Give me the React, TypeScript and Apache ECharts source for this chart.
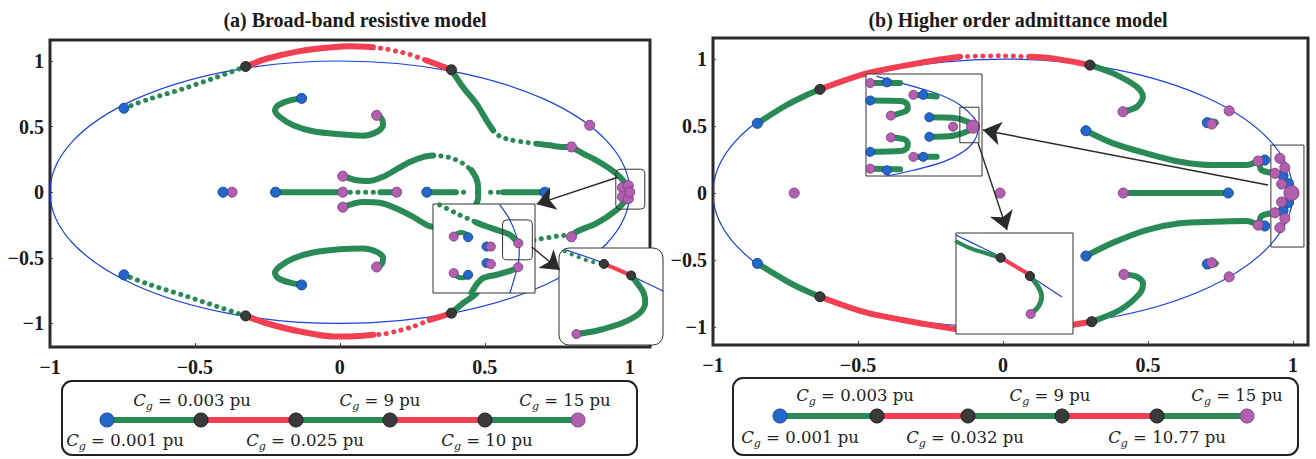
import React, { useEffect, useRef } from "react";
import * as echarts from "echarts";

// ---------- shared ----------
const xTickValues = [-1, -0.5, 0, 0.5, 1];
const yTickValues = [-1, -0.5, 0, 0.5, 1];
const unitCircle = [[0, 0, 1]]; // centre x, centre y, radius (stability boundary)

// ---------- panel (a): main plot ----------
const aUpperLeftDots = [[-0.745, 0.64], [-0.655, 0.712], [-0.541, 0.788], [-0.425, 0.877], [-0.325, 0.958]];
const aTopRed1 = [[-0.325, 0.958], [-0.253, 1.017], [-0.138, 1.075], [-0.024, 1.105], [0.034, 1.112], [0.114, 1.105]];
const aTopRedDots = [[0.114, 1.105], [0.155, 1.093], [0.195, 1.075], [0.241, 1.05], [0.299, 1.004]];
const aTopRed2 = [[0.299, 1.004], [0.345, 0.966], [0.385, 0.933]];
const aUpperRightSolid = [[0.385, 0.933], [0.425, 0.8], [0.471, 0.675], [0.506, 0.548], [0.529, 0.471]];
const aUpperRightDots = [[0.529, 0.471], [0.552, 0.426], [0.586, 0.4], [0.632, 0.383], [0.678, 0.37]];
const aUpperRightSolid2 = [[0.678, 0.37], [0.724, 0.357], [0.77, 0.345], [0.799, 0.345]];
const aUpperCluster = [[0.799, 0.345], [0.839, 0.294], [0.885, 0.243], [0.931, 0.18], [0.966, 0.116], [0.989, 0.053]];
const aLowerCluster = [[0.989, -0.053], [0.954, -0.137], [0.885, -0.238], [0.816, -0.302], [0.799, -0.34]];
const aLowerRightDots = [[0.799, -0.34], [0.77, -0.33], [0.724, -0.345], [0.69, -0.357], [0.64, -0.38], [0.6, -0.41]];
const aLowerRightSolid = [[0.6, -0.41], [0.55, -0.46], [0.52, -0.53], [0.49, -0.65], [0.471, -0.77], [0.425, -0.846], [0.385, -0.922]];
const aBottomRed2 = [[0.385, -0.922], [0.345, -0.95], [0.31, -0.973]];
const aBottomRedDots = [[0.31, -0.973], [0.253, -1.024], [0.195, -1.06], [0.155, -1.08], [0.115, -1.087]];
const aBottomRed1 = [[0.115, -1.087], [0.034, -1.1], [-0.023, -1.1], [-0.138, -1.062], [-0.253, -0.999], [-0.325, -0.943]];
const aLowerLeftDots = [[-0.325, -0.943], [-0.425, -0.87], [-0.541, -0.785], [-0.655, -0.705], [-0.745, -0.63]];
const aMidUpperSolid = [[0.01, 0.122], [0.058, 0.091], [0.103, 0.086], [0.149, 0.117], [0.195, 0.173], [0.241, 0.23], [0.287, 0.268], [0.322, 0.279]];
const aMidUpperDots = [[0.322, 0.279], [0.356, 0.274], [0.391, 0.256], [0.425, 0.218], [0.454, 0.167]];
const aMidUpperSolid2 = [[0.454, 0.167], [0.471, 0.104], [0.477, 0.04], [0.477, 0]];
const aMidLowerSolid = [[0.01, -0.114], [0.08, -0.074], [0.138, -0.081], [0.195, -0.124], [0.253, -0.188], [0.31, -0.259], [0.36, -0.27]];
const aMidLowerDots = [[0.36, -0.27], [0.42, -0.22], [0.46, -0.14]];
const aMidLowerSolid2 = [[0.46, -0.14], [0.477, -0.04], [0.477, 0]];
const aRealLeft = [[-0.222, 0], [0.01, 0]];
const aRealMidDots = [[0.01, 0], [0.14, 0]];
const aRealMid = [[0.14, 0], [0.196, 0]];
const aRealRight1 = [[0.3, 0], [0.4, 0]];
const aRealRight1Dots = [[0.4, 0], [0.445, 0]];
const aRealRight2Dots = [[0.52, 0], [0.563, 0]];
const aRealRight2 = [[0.563, 0], [0.707, 0]];
const aHookUpper = [[-0.132, 0.715], [-0.172, 0.7], [-0.213, 0.662], [-0.224, 0.624], [-0.207, 0.573], [-0.161, 0.51], [-0.092, 0.464], [0, 0.441], [0.08, 0.431], [0.127, 0.459], [0.149, 0.51], [0.144, 0.56], [0.127, 0.586]];
const aHookLower = [[-0.132, -0.707], [-0.172, -0.69], [-0.213, -0.655], [-0.224, -0.615], [-0.207, -0.565], [-0.161, -0.505], [-0.092, -0.46], [0, -0.435], [0.08, -0.43], [0.127, -0.455], [0.149, -0.5], [0.144, -0.55], [0.127, -0.57]];
const aBlueStarts = [[-0.745, 0.64], [-0.745, -0.63], [-0.132, 0.715], [-0.132, -0.707], [-0.403, 0], [-0.222, 0], [0.3, 0], [0.707, 0]];
const aPurpleEnds = [[-0.372, 0], [0.01, 0], [0.196, 0], [0.01, 0.122], [0.01, -0.114], [0.127, 0.586], [0.127, -0.57], [0.799, 0.345], [0.799, -0.34], [0.862, 0.51], [0.975, 0.035], [0.975, -0.035], [0.995, 0.05], [0.995, -0.05], [1.0, 0]];
const aBlackCrossings = [[-0.325, 0.958], [-0.325, -0.943], [0.385, 0.933], [0.385, -0.922]];
const aZoomBox = [[0.952, -0.129, 1.052, 0.175, 4]];
const aArrows = [[[0.959, 0.114], [0.679, -0.091]], [[0.662, -0.418], [0.759, -0.593]]];

// ---------- panel (a): inset 1 (local 0-100 units) ----------
const a1CircleArc = [[65.6, 98.9], [75.4, 82.1], [82, 63.4], [84.6, 48.5], [83.6, 33.6], [80.3, 18.7], [75.4, 0]];
const a1UpperDots = [[6.6, 98.9], [16.4, 93.3], [23, 89.6], [29.5, 85.8], [36, 82.8], [42.6, 79.1]];
const a1UpperSolid = [[42.6, 79.1], [52, 75], [62.3, 70.9], [75.4, 65.3], [83.6, 56]];
const a1LowerSolid = [[83.6, 29.1], [77, 25.4], [62.3, 20.5], [49.2, 16.8], [42.6, 9.3], [37.7, 0]];
const a1HookTop = [[20.3, 63.4], [24, 67], [28, 68], [32, 66.5], [34.4, 62.7]];
const a1HookBottom = [[20.3, 22.4], [24, 18.5], [28, 17], [32, 18], [34.4, 20.5]];
const a1Blue = [[34.4, 62.7], [34.4, 20.5], [52.5, 52.2], [52.5, 33.6]];
const a1Purple = [[20.3, 63.4], [20.3, 22.4], [56.7, 52.2], [56.7, 32.5], [83.6, 56], [83.6, 29.1]];
const a1ZoomBox = [[68.2, 37.3, 97.4, 82.1, 4]];

// ---------- panel (a): inset 2 ----------
const a2CircleArc = [[5.5, 98.3], [42.6, 84.6], [70, 71], [100, 55.6]];
const a2Dots = [[5.5, 96.6], [10.3, 94.2], [16.8, 91.5], [23.2, 88.7], [29.7, 86.3], [36.1, 84.6], [43.2, 83.6]];
const a2Red = [[43.2, 83.6], [56, 78], [69.4, 71.7]];
const a2Green = [[69.4, 71.7], [74.8, 64.2], [81.3, 53.9], [82.9, 43.7], [78.1, 33.4], [61.9, 23.2], [36.1, 14.7], [16.8, 11.3]];
const a2Black = [[43.2, 83.6], [69.4, 71.7]];
const a2Purple = [[16.8, 11.3]];

// ---------- panel (b): main plot ----------
const bUpperLeft = [[-0.847, 0.52], [-0.746, 0.657], [-0.689, 0.719], [-0.631, 0.774]];
const bTopRed1 = [[-0.631, 0.774], [-0.47, 0.893], [-0.263, 0.98], [-0.148, 1.017]];
const bTopRedDots = [[-0.148, 1.017], [-0.01, 1.024], [0.093, 1.017]];
const bTopRed2 = [[0.093, 1.017], [0.172, 1.005], [0.3, 0.955]];
const bUpperRight = [[0.3, 0.955], [0.38, 0.893], [0.462, 0.793], [0.483, 0.72], [0.462, 0.644], [0.414, 0.607]];
const bLowerLeft = [[-0.847, -0.525], [-0.746, -0.657], [-0.689, -0.72], [-0.631, -0.774]];
const bBottomRed1 = [[-0.631, -0.774], [-0.47, -0.893], [-0.263, -0.98], [-0.148, -1.02]];
const bBottomRedDots = [[-0.148, -1.02], [-0.01, -1.026], [0.093, -1.02]];
const bBottomRed2 = [[0.093, -1.02], [0.172, -1.005], [0.306, -0.96]];
const bLowerRight = [[0.306, -0.96], [0.403, -0.873], [0.472, -0.749], [0.483, -0.672], [0.462, -0.624], [0.417, -0.607]];
const bMidUpper = [[0.286, 0.465], [0.38, 0.371], [0.495, 0.296], [0.61, 0.234], [0.725, 0.209], [0.84, 0.209], [0.88, 0.239]];
const bMidLower = [[0.286, -0.47], [0.38, -0.37], [0.495, -0.276], [0.61, -0.226], [0.725, -0.214], [0.84, -0.209], [0.88, -0.239]];
const bHookUpper = [[0.885, 0.225], [0.89, 0.175], [0.915, 0.155], [0.95, 0.15]];
const bHookLower = [[0.885, -0.225], [0.89, -0.175], [0.915, -0.155], [0.95, -0.15]];
const bReal = [[0.415, 0], [0.777, 0]];
const bLoopUpper = [[0.7, 0.525], [0.712, 0.545], [0.732, 0.543], [0.74, 0.523], [0.725, 0.503], [0.705, 0.508], [0.7, 0.525]];
const bLoopLower = [[0.7, -0.525], [0.712, -0.545], [0.732, -0.543], [0.74, -0.523], [0.725, -0.503], [0.705, -0.508], [0.7, -0.525]];
const bBlueStarts = [[-0.847, 0.52], [-0.847, -0.525], [0.286, 0.465], [0.286, -0.47], [0.777, 0], [0.705, 0.525], [0.705, -0.53], [0.903, 0.246], [0.903, -0.246], [0.966, 0.13], [0.966, -0.13], [0.985, 0.07], [0.985, -0.07]];
const bPurpleEnds = [[0.414, 0.607], [0.417, -0.607], [0.415, 0], [-0.72, 0], [-0.01, 0], [0.78, 0.614], [0.78, -0.625], [0.72, 0.515], [0.72, -0.52], [0.88, 0.239], [0.88, -0.239], [0.955, 0.259], [0.972, 0.19], [0.938, 0.147], [0.961, 0.067], [0.961, -0.067], [0.938, -0.147], [0.972, -0.19], [0.955, -0.259]];
const bBigPurple = [[0.995, 0]];
const bBlackCrossings = [[-0.631, 0.774], [-0.631, -0.774], [0.3, 0.955], [0.306, -0.96]];
const bZoomBox = [[0.924, -0.403, 1.038, 0.358, 0]];
const bArrows = [[[0.914, 0.06], [-0.069, 0.47]], [[-0.086, 0.373], [0.014, -0.276]]];

// ---------- panel (b): inset 1 ----------
const b1CircleArc = [[9.4, 97.7], [40.9, 87.8], [63.7, 79.6], [80.9, 69.7], [92.3, 58.2], [96.6, 48.4], [93.7, 35.2], [83.7, 23.7], [66.6, 13.8], [40.9, 5.6], [18, 0]];
const b1Row1 = [[3.7, 91.1], [29.4, 91.1]];
const b1Row2 = [[40.9, 79.6], [60.9, 78]];
const b1Hook3 = [[3.7, 74], [30, 73.5], [35, 71], [36, 66], [33, 63], [21.4, 59.2]];
const b1Row4a = [[54.6, 57.6], [75, 57], [88, 53], [92.3, 48.4]];
const b1Row4b = [[54.6, 38.5], [75, 39.5], [88, 44], [92.3, 48.4]];
const b1Hook5 = [[21.4, 37.8], [33, 36], [36, 32], [35, 27], [30, 24.5], [3.7, 23.7]];
const b1Row6 = [[40.9, 18.8], [60.9, 18.8]];
const b1Row7 = [[3.7, 7.2], [29.4, 6.5]];
const b1Purple = [[3.7, 91.1], [40.9, 79.6], [21.4, 59.2], [75.1, 48.4], [21.4, 37.8], [40.9, 18.8], [3.7, 7.2]];
const b1BigPurple = [[92.3, 48.4]];
const b1Blue = [[18, 91.8], [49.4, 79.6], [3.7, 74], [54.6, 57.6], [54.6, 38.5], [3.7, 23.7], [49.4, 18.8], [18, 5.6]];
const b1ZoomBox = [[80.9, 32.6, 97.4, 67.4, 0]];

// ---------- panel (b): inset 2 ----------
const b2CircleArc = [[0, 98], [20.5, 86.4], [37.6, 76.5], [63.2, 57.4], [90.3, 36.9]];
const b2Green1 = [[0.6, 91.4], [12, 85.1], [24.8, 80.2], [38.2, 75.5]];
const b2Red = [[38.2, 75.5], [50, 67.5], [63.2, 58.5]];
const b2Green2 = [[63.2, 57.4], [70.3, 46.8], [73.2, 36.9], [70.3, 27], [63.8, 19.8]];
const b2Black = [[38.2, 75.5], [63.2, 57.4]];
const b2Purple = [[63.8, 19.8]];

// ---------- legends ----------
const legendValuesA = ["0.001", "0.003", "0.025", "9", "10", "15"];
const legendValuesB = ["0.001", "0.003", "0.032", "9", "10.77", "15"];
const legendSegmentKinds = ["g", "r", "g", "r", "g"];

// ---------- styles ----------
const GREEN = "#2a8a56";
const RED = "#f23f52";
const BLUE = "#2368c8";
const PURPLE = "#b060ae";
const BLACK = "#3a3a3a";
const CIRCLE = "#1b3fe0";
const FRAME = "#2a2a2a";
const SERIF = '"Liberation Serif", "Times New Roman", serif';
const LEGEND_FONT = '"DejaVu Serif", serif';

const STY: Record<string, any> = {
  g: { color: GREEN, width: 6, type: "solid" },
  gd: { color: GREEN, width: 5, type: [0.1, 7.5] },
  r: { color: RED, width: 6, type: "solid" },
  rd: { color: RED, width: 5, type: [0.1, 7.5] },
  c: { color: CIRCLE, width: 1.2, type: "solid" },
};

function lineS(data: number[][], kind: string, axis: number, z: number, width?: number) {
  const s = STY[kind];
  return {
    type: "line", xAxisIndex: axis, yAxisIndex: axis, data, symbol: "none", showSymbol: false,
    smooth: 0.3, silent: true, z,
    lineStyle: { color: s.color, width: width ?? s.width, type: s.type, cap: "round", join: "round" },
  };
}
function dotS(data: number[][], color: string, border: string, size: number, axis: number, z: number) {
  return {
    type: "scatter", xAxisIndex: axis, yAxisIndex: axis, data, symbol: "circle", symbolSize: size, silent: true, z,
    itemStyle: { color, borderColor: border, borderWidth: 1, opacity: 1 },
  };
}
function rectS(data: number[][], axis: number, z: number, fill: string, stroke: string, lw: number) {
  return {
    type: "custom", xAxisIndex: axis, yAxisIndex: axis, data, silent: true, z, clip: false,
    renderItem: (_p: any, api: any) => {
      const a = api.coord([api.value(0), api.value(3)]);
      const b = api.coord([api.value(2), api.value(1)]);
      return {
        type: "rect",
        shape: { x: a[0], y: a[1], width: b[0] - a[0], height: b[1] - a[1], r: api.value(4) },
        style: { fill, stroke, lineWidth: lw },
      };
    },
  };
}
function circleS(axis: number, z: number) {
  return {
    type: "custom", xAxisIndex: axis, yAxisIndex: axis, data: unitCircle, silent: true, z, clip: true,
    renderItem: (_p: any, api: any) => {
      const c = api.coord([api.value(0), api.value(1)]);
      const s = api.size([api.value(2), api.value(2)]);
      return {
        type: "ellipse",
        shape: { cx: c[0], cy: c[1], rx: s[0], ry: s[1] },
        style: { fill: "none", stroke: CIRCLE, lineWidth: 1.2 },
      };
    },
  };
}
function arrowS(arrows: number[][][], axis: number, z: number) {
  return {
    type: "lines", coordinateSystem: "cartesian2d", xAxisIndex: axis, yAxisIndex: axis, silent: true, z,
    symbol: ["none", "arrow"], symbolSize: 18,
    data: arrows.map((c) => ({ coords: c })),
    lineStyle: { color: "#2a2a2a", width: 1.4, opacity: 1, curveness: 0 },
  };
}

const fmt = (v: number) => String(v).replace("-", "\u2212");

function mainX(grid: number, max: number) {
  return {
    gridIndex: grid, type: "value", min: -1, max,
    axisLine: { show: false, onZero: false }, splitLine: { show: false },
    axisTick: { show: true, inside: true, length: 4, customValues: xTickValues, lineStyle: { color: "#444" } },
    axisLabel: { customValues: xTickValues, formatter: fmt, fontFamily: SERIF, fontWeight: "bold", fontSize: 20, color: "#1a1a1a", margin: 10 },
  };
}
function mainY(grid: number, min: number, max: number) {
  return {
    gridIndex: grid, type: "value", min, max,
    axisLine: { show: false, onZero: false }, splitLine: { show: false },
    axisTick: { show: true, inside: true, length: 3, customValues: yTickValues, lineStyle: { color: "#444" } },
    axisLabel: { customValues: yTickValues, formatter: fmt, fontFamily: SERIF, fontWeight: "bold", fontSize: 20, color: "#1a1a1a", margin: 6 },
  };
}
const insetAxis = (grid: number) => ({ gridIndex: grid, type: "value", min: 0, max: 100, show: false });

const RICH = {
  c: { fontFamily: LEGEND_FONT, fontStyle: "italic", fontSize: 16.5, lineHeight: 24, fill: "#222", color: "#222" },
  s: { fontFamily: LEGEND_FONT, fontStyle: "italic", fontSize: 11, lineHeight: 12, verticalAlign: "bottom", fill: "#222", color: "#222" },
  n: { fontFamily: LEGEND_FONT, fontSize: 16.5, lineHeight: 24, fill: "#222", color: "#222" },
};

function legendGraphic(values: string[], box: any, dotsX: number[], lineY: number, labelDx: number[], labelDy: number) {
  const children: any[] = [];
  children.push({ type: "rect", shape: { x: box.x, y: box.y, width: box.w, height: box.h, r: 10 }, style: { fill: "#fff", stroke: "#222", lineWidth: 2 } });
  for (let i = 0; i < dotsX.length - 1; i++) {
    children.push({
      type: "line", shape: { x1: dotsX[i], y1: lineY, x2: dotsX[i + 1], y2: lineY },
      style: { stroke: legendSegmentKinds[i] === "g" ? GREEN : RED, lineWidth: 6 },
    });
  }
  const last = dotsX.length - 1;
  dotsX.forEach((x, i) => {
    const fill = i === 0 ? BLUE : i === last ? PURPLE : BLACK;
    const stroke = i === 0 ? "#17489a" : i === last ? "#8a3f88" : "#1e1e1e";
    children.push({ type: "circle", shape: { cx: x, cy: lineY, r: 7 }, style: { fill, stroke, lineWidth: 1 } });
    const top = i % 2 === 1;
    children.push({
      type: "text", x: x + labelDx[i], y: top ? lineY - labelDy : lineY + labelDy,
      style: { text: `{c|C}{s|g}{n| = ${values[i]} pu}`, rich: RICH, align: "center", verticalAlign: "middle" },
    });
  });
  return { type: "group", children };
}

function buildOption() {
  const A = 0, A1 = 1, A2 = 2, B = 3, B1 = 4, B2 = 5;
  const series: any[] = [];
  // panel (a) main
  series.push(circleS(A, 2));
  const aSegs: [number[][], string][] = [
    [aUpperLeftDots, "gd"], [aTopRed1, "r"], [aTopRedDots, "rd"], [aTopRed2, "r"],
    [aUpperRightSolid, "g"], [aUpperRightDots, "gd"], [aUpperRightSolid2, "g"], [aUpperCluster, "g"],
    [aLowerCluster, "g"], [aLowerRightDots, "gd"], [aLowerRightSolid, "g"], [aBottomRed2, "r"],
    [aBottomRedDots, "rd"], [aBottomRed1, "r"], [aLowerLeftDots, "gd"],
    [aMidUpperSolid, "g"], [aMidUpperDots, "gd"], [aMidUpperSolid2, "g"],
    [aMidLowerSolid, "g"], [aMidLowerDots, "gd"], [aMidLowerSolid2, "g"],
    [aRealLeft, "g"], [aRealMidDots, "gd"], [aRealMid, "g"], [aRealRight1, "g"], [aRealRight1Dots, "gd"],
    [aRealRight2Dots, "gd"], [aRealRight2, "g"], [aHookUpper, "g"], [aHookLower, "g"],
  ];
  aSegs.forEach(([d, k]) => series.push(lineS(d, k, A, 3)));
  series.push(dotS(aPurpleEnds, PURPLE, "#8a3f88", 10, A, 4));
  series.push(dotS(aBlueStarts, BLUE, "#17489a", 10, A, 4));
  series.push(dotS(aBlackCrossings, BLACK, "#1e1e1e", 10, A, 4));
  series.push(rectS(aZoomBox, A, 4, "none", "#333", 1));
  // inset a1
  series.push(rectS([[0, 0, 100, 100, 0]], A1, 5, "#fff", "#333", 1));
  series.push(lineS(a1CircleArc, "c", A1, 6));
  series.push(lineS(a1UpperDots, "gd", A1, 6));
  series.push(lineS(a1UpperSolid, "g", A1, 6));
  series.push(lineS(a1LowerSolid, "g", A1, 6));
  series.push(lineS(a1HookTop, "g", A1, 6, 5));
  series.push(lineS(a1HookBottom, "g", A1, 6, 5));
  series.push(dotS(a1Blue, BLUE, "#17489a", 9, A1, 7));
  series.push(dotS(a1Purple, PURPLE, "#8a3f88", 9, A1, 7));
  series.push(rectS(a1ZoomBox, A1, 8, "none", "#333", 1));
  // inset a2
  series.push(rectS([[0, 0, 100, 100, 10]], A2, 5, "#fff", "#333", 1));
  series.push(lineS(a2CircleArc, "c", A2, 6));
  series.push(lineS(a2Dots, "gd", A2, 6, 4));
  series.push(lineS(a2Red, "r", A2, 6, 4));
  series.push(lineS(a2Green, "g", A2, 6));
  series.push(dotS(a2Black, BLACK, "#1e1e1e", 9, A2, 7));
  series.push(dotS(a2Purple, PURPLE, "#8a3f88", 9, A2, 7));
  series.push(arrowS(aArrows, A, 9));

  // panel (b) main
  series.push(circleS(B, 2));
  const bSegs: [number[][], string][] = [
    [bUpperLeft, "g"], [bTopRed1, "r"], [bTopRedDots, "rd"], [bTopRed2, "r"], [bUpperRight, "g"],
    [bLowerLeft, "g"], [bBottomRed1, "r"], [bBottomRedDots, "rd"], [bBottomRed2, "r"], [bLowerRight, "g"],
    [bMidUpper, "g"], [bMidLower, "g"], [bHookUpper, "g"], [bHookLower, "g"], [bReal, "g"],
  ];
  bSegs.forEach(([d, k]) => series.push(lineS(d, k, B, 3)));
  series.push(lineS(bLoopUpper, "g", B, 3, 3));
  series.push(lineS(bLoopLower, "g", B, 3, 3));
  series.push(dotS(bBlueStarts, BLUE, "#17489a", 10, B, 4));
  series.push(dotS(bPurpleEnds, PURPLE, "#8a3f88", 10, B, 4));
  series.push(dotS(bBigPurple, PURPLE, "#8a3f88", 15, B, 4));
  series.push(dotS(bBlackCrossings, BLACK, "#1e1e1e", 10, B, 4));
  series.push(rectS(bZoomBox, B, 4, "none", "#333", 1));
  // inset b1
  series.push(rectS([[0, 0, 100, 100, 0]], B1, 5, "#fff", "#333", 1));
  series.push(lineS(b1CircleArc, "c", B1, 6));
  [b1Row1, b1Row2, b1Hook3, b1Row4a, b1Row4b, b1Hook5, b1Row6, b1Row7].forEach((d) => series.push(lineS(d, "g", B1, 6, 6)));
  series.push(dotS(b1Purple, PURPLE, "#8a3f88", 9, B1, 7));
  series.push(dotS(b1BigPurple, PURPLE, "#8a3f88", 13, B1, 7));
  series.push(dotS(b1Blue, BLUE, "#17489a", 9, B1, 7));
  series.push(rectS(b1ZoomBox, B1, 8, "none", "#333", 1));
  // inset b2
  series.push(rectS([[0, 0, 100, 100, 0]], B2, 5, "#fff", "#333", 1));
  series.push(lineS(b2CircleArc, "c", B2, 6));
  series.push(lineS(b2Green1, "g", B2, 6, 4));
  series.push(lineS(b2Red, "r", B2, 6, 4));
  series.push(lineS(b2Green2, "g", B2, 6, 5));
  series.push(dotS(b2Black, BLACK, "#1e1e1e", 9, B2, 7));
  series.push(dotS(b2Purple, PURPLE, "#8a3f88", 9, B2, 7));
  series.push(arrowS(bArrows, B, 9));

  return {
    animation: false,
    backgroundColor: "#fff",
    grid: [
      { left: 50, top: 40, width: 600, height: 307, show: true, borderColor: FRAME, borderWidth: 3, outerBoundsMode: "none" },
      { left: 433, top: 204, width: 102, height: 89, show: false, outerBoundsMode: "none" },
      { left: 559, top: 248, width: 104, height: 97, show: false, outerBoundsMode: "none" },
      { left: 713, top: 38, width: 595, height: 307, show: true, borderColor: FRAME, borderWidth: 3, outerBoundsMode: "none" },
      { left: 866, top: 74, width: 116, height: 102, show: false, outerBoundsMode: "none" },
      { left: 956, top: 233, width: 117, height: 101, show: false, outerBoundsMode: "none" },
    ],
    xAxis: [mainX(0, 1.07), insetAxis(1), insetAxis(2), mainX(3, 1.052), insetAxis(4), insetAxis(5)],
    yAxis: [mainY(0, -1.18, 1.16), insetAxis(1), insetAxis(2), mainY(3, -1.134, 1.157), insetAxis(4), insetAxis(5)],
    series,
    graphic: [
      { type: "text", x: 355, y: 20, style: { text: "(a) Broad-band resistive model", fontFamily: SERIF, fontWeight: "bold", fontSize: 20, fill: "#1a1a1a", align: "center", verticalAlign: "middle" } },
      { type: "text", x: 1018, y: 20, style: { text: "(b) Higher order admittance model", fontFamily: SERIF, fontWeight: "bold", fontSize: 20, fill: "#1a1a1a", align: "center", verticalAlign: "middle" } },
      legendGraphic(legendValuesA, { x: 62, y: 381, w: 575, h: 74 }, [107, 201, 296, 390, 485, 578], 420, [18, -9, 9, -10, 2, -13], 20),
      legendGraphic(legendValuesB, { x: 733, y: 378, w: 565, h: 77 }, [780, 877, 968, 1062, 1157, 1247], 416, [20, -22, -3, -12, 10, -10], 21),
    ],
  };
}

export default function App() {
  const ref = useRef<HTMLDivElement>(null);
  useEffect(() => {
    const chart = echarts.init(ref.current as HTMLDivElement, null, { renderer: "svg" });
    chart.setOption(buildOption() as any);
    return () => chart.dispose();
  }, []);
  return <div ref={ref} style={{ position: "fixed", left: 0, top: 0, width: 1316, height: 459, background: "#fff" }} />;
}
